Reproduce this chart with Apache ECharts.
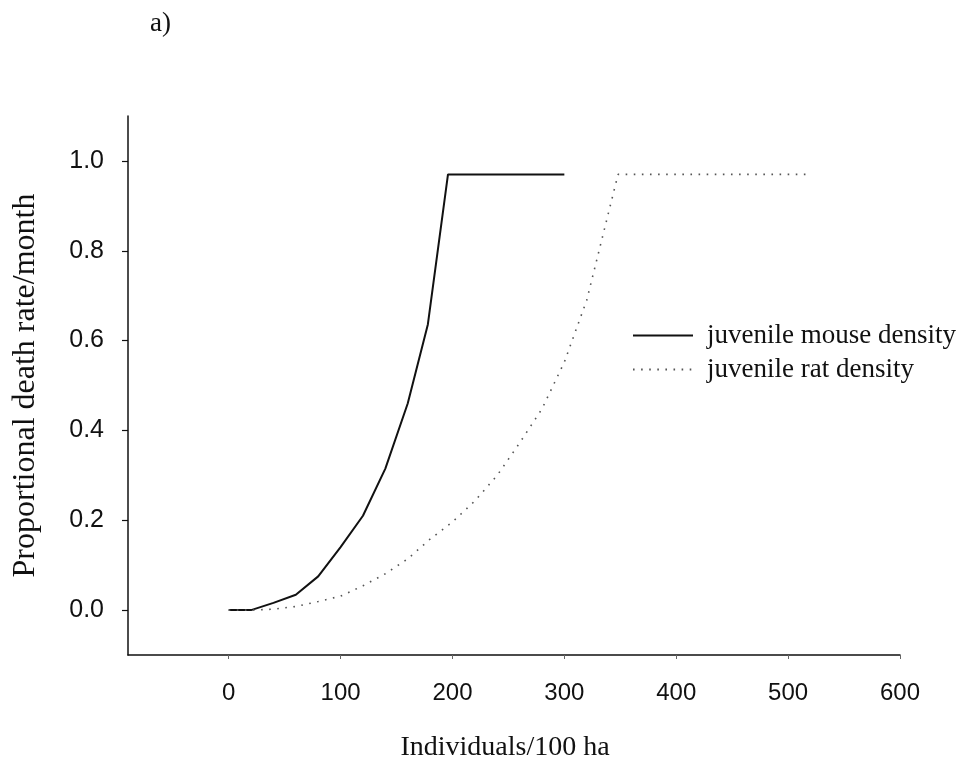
<!DOCTYPE html>
<html>
<head>
<meta charset="utf-8">
<style>
  html, body { margin: 0; padding: 0; background: #fff; }
  #chart { width: 962px; height: 768px; }
</style>
<script src="https://cdn.jsdelivr.net/npm/echarts@6/dist/echarts.min.js"></script>
</head>
<body>
<div id="chart"></div>
<script>
// Density (individuals per 100 ha) and proportional monthly death rate
const mouseDensity = [0, 20, 40, 60, 80, 100, 120, 140, 160, 178, 196, 300];
const mouseDeath   = [0, 0, 0.016, 0.034, 0.075, 0.14, 0.21, 0.315, 0.46, 0.636, 0.97, 0.97];

const ratDensity = [0, 20, 40, 60, 80, 100, 120, 140, 160, 180, 200, 220, 240, 260, 280, 300, 320, 340, 348, 520];
const ratDeath   = [0, 0, 0.002, 0.008, 0.019, 0.031, 0.054, 0.081, 0.114, 0.158, 0.196, 0.243, 0.30, 0.372, 0.448, 0.552, 0.69, 0.89, 0.97, 0.97];

const xTicks = [0, 100, 200, 300, 400, 500, 600];
const yTicks = [0, 0.2, 0.4, 0.6, 0.8, 1.0];

const seriesNames = ['juvenile mouse density', 'juvenile rat density'];
const xTitle = 'Individuals/100 ha';
const yTitle = 'Proportional death rate/month';
const panelTag = 'a)';

const pairs = (xs, ys) => xs.map((x, i) => [x, ys[i]]);

const serif = '"Liberation Serif", "Times New Roman", serif';
const sans = '"Liberation Sans", Arial, sans-serif';

const chart = echarts.init(document.getElementById('chart'), null, { renderer: 'canvas' });

chart.setOption({
  animation: false,
  backgroundColor: '#fff',
  grid: { left: 128, right: 62, top: 116, bottom: 113 },
  graphic: [{
    type: 'text',
    left: 150,
    top: 10,
    style: { text: panelTag, font: '27px ' + serif, fill: '#111' }
  }],
  legend: {
    orient: 'vertical',
    left: 632,
    top: 322,
    padding: 0,
    itemWidth: 60,
    itemHeight: 14,
    itemGap: 7,
    data: seriesNames,
    // show only the line sample, no point marker
    itemStyle: { opacity: 0 },
    textStyle: { fontFamily: serif, fontSize: 27, color: '#111', padding: [0, 0, 0, 9] }
  },
  xAxis: {
    type: 'value',
    min: -90,
    max: 600,
    splitLine: { show: false },
    axisLine: { show: true, onZero: false, lineStyle: { color: '#111', width: 1.5 } },
    axisTick: { show: true, length: 4, customValues: xTicks, lineStyle: { color: '#666', width: 1 } },
    axisLabel: {
      customValues: xTicks,
      margin: 26,
      fontFamily: sans, fontSize: 24, color: '#111'
    },
    name: xTitle,
    nameLocation: 'middle',
    nameGap: 79,
    nameTextStyle: { fontFamily: serif, fontSize: 28, color: '#111', padding: [0, 18, 0, 0] }
  },
  yAxis: {
    type: 'value',
    min: -0.1,
    max: 1.1,
    splitLine: { show: false },
    axisLine: { show: true, onZero: false, lineStyle: { color: '#111', width: 1.5 } },
    axisTick: { show: true, length: 6, customValues: yTicks, lineStyle: { color: '#111', width: 1.2 } },
    axisLabel: {
      customValues: yTicks,
      margin: 24,
      formatter: v => v.toFixed(1),
      fontFamily: sans, fontSize: 25, color: '#111'
    },
    name: yTitle,
    nameLocation: 'middle',
    nameGap: 86,
    nameTextStyle: { fontFamily: serif, fontSize: 32, color: '#111' }
  },
  series: [
    {
      name: seriesNames[0],
      type: 'line',
      data: pairs(mouseDensity, mouseDeath),
      showSymbol: false,
      symbol: 'none',
      lineStyle: { color: '#111', width: 2 },
      itemStyle: { color: '#111' }
    },
    {
      name: seriesNames[1],
      type: 'line',
      data: pairs(ratDensity, ratDeath),
      showSymbol: false,
      symbol: 'none',
      lineStyle: { color: '#555', width: 1.6, type: [1.6, 6.5] },
      itemStyle: { color: '#555' }
    }
  ]
});
</script>
</body>
</html>
